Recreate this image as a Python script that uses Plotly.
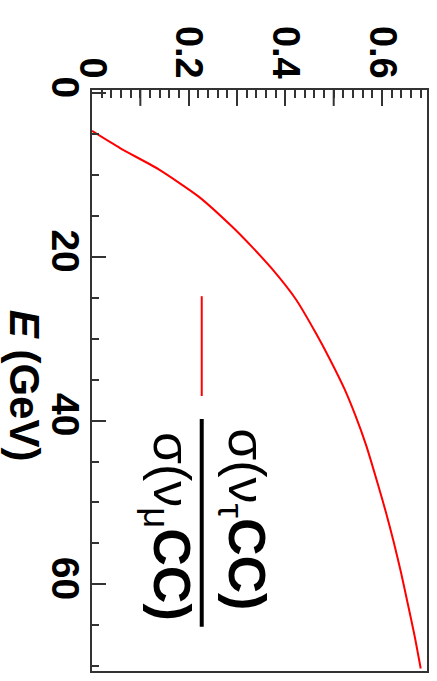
import plotly.graph_objects as go

# Data read from the (rotated) reference
energy_gev = [4.6, 6.7, 9.3, 12.6, 16.2, 18.9, 21.5, 25.2, 29.3, 32.5, 36.1, 39.4,
              43.0, 47.9, 51.2, 54.8, 58.5, 62.6, 66.2, 70.3]
xsec_ratio = [0.0, 0.058, 0.138, 0.220, 0.288, 0.333, 0.373, 0.422, 0.463, 0.492,
              0.522, 0.545, 0.567, 0.592, 0.608, 0.624, 0.639, 0.654, 0.667, 0.680]

ratio_tickvals = [0, 0.2, 0.4, 0.6]
ratio_ticktext = ["0", "0.2", "0.4", "0.6"]
ratio_unlabelled_ticks = [0.1, 0.3, 0.5]
energy_tickvals = [0, 20, 40, 60]
energy_ticktext = ["0", "20", "40", "60"]

FONT = "Liberation Sans, Arial, sans-serif"
FRAME = "#333333"
PLOT_H = 681 - 90 - 8

fig = go.Figure()
fig.add_trace(go.Scatter(x=xsec_ratio, y=energy_gev, mode="lines", line_shape="spline",
                         line=dict(color="#ff0000", width=2, smoothing=0.6), showlegend=False))

fig.update_layout(
    width=437, height=681, autosize=False,
    margin=dict(l=92, r=9, t=90, b=8),
    paper_bgcolor="white", plot_bgcolor="white",
    xaxis=dict(
        range=[0, 0.693], side="top", showgrid=False, zeroline=False,
        showline=True, mirror=True, linecolor=FRAME, linewidth=2,
        tickmode="array", tickvals=ratio_tickvals, ticktext=ratio_ticktext,
        ticks="inside", ticklen=16, tickwidth=2, tickcolor=FRAME,
        tickangle=90, ticklabelstandoff=-4,
        tickfont=dict(family=FONT, size=38, color="black", weight="bold"),
        minor=dict(dtick=0.02, tick0=0, ticks="inside", ticklen=8, tickwidth=2, tickcolor=FRAME),
    ),
    yaxis=dict(
        range=[70.6, -0.4], showgrid=False, zeroline=False,
        showline=True, mirror=True, linecolor=FRAME, linewidth=2,
        tickmode="array", tickvals=energy_tickvals, ticktext=energy_ticktext,
        ticks="inside", ticklen=14, tickwidth=2, tickcolor=FRAME,
        tickangle=90, ticklabelstandoff=-9,
        tickfont=dict(family=FONT, size=39, color="black", weight="bold"),
        minor=dict(dtick=5, tick0=0, ticks="inside", ticklen=7, tickwidth=2, tickcolor=FRAME),
    ),
)

# unlabelled long ticks at the odd tenths
for v in ratio_unlabelled_ticks:
    fig.add_shape(type="line", xref="x", yref="paper", x0=v, x1=v,
                  y0=1, y1=1 - 16 / PLOT_H, line=dict(color=FRAME, width=2))

# axis title (rotated)
fig.add_annotation(xref="paper", yref="paper", x=(24 - 92) / 336, y=1 - (387 - 90) / 583,
                   text="<b><i>E</i> (GeV)</b>", textangle=90, showarrow=False,
                   xanchor="center", yanchor="middle",
                   font=dict(family=FONT, size=42, color="black"))

# legend sample line
fig.add_shape(type="line", xref="x", yref="y", x0=0.227, x1=0.227, y0=24.8, y1=37.0,
              line=dict(color="#ff0000", width=2))
# fraction bar
fig.add_shape(type="line", xref="x", yref="y", x0=0.227, x1=0.227, y0=39.8, y1=65.2,
              line=dict(color="black", width=4))
# numerator / denominator
fig.add_annotation(xref="x", yref="y", x=(244 - 92) / 485, y=(520 - 93.7) / 8.2,
                   text="σ(ν<sub>τ</sub><b>CC)</b>", textangle=90, showarrow=False,
                   xanchor="center", yanchor="middle",
                   font=dict(family=FONT, size=52, color="black"))
fig.add_annotation(xref="x", yref="y", x=(169 - 92) / 485, y=(528 - 93.7) / 8.2,
                   text="σ(ν<sub>μ</sub><b>CC)</b>", textangle=90, showarrow=False,
                   xanchor="center", yanchor="middle",
                   font=dict(family=FONT, size=52, color="black"))

fig.write_html("out.html")
